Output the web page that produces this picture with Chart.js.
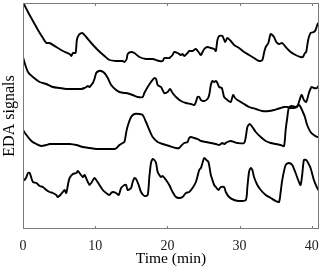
<!DOCTYPE html>
<html>
<head>
<meta charset="utf-8">
<script src="https://cdn.jsdelivr.net/npm/chart.js@4"></script>
<style>
  html, body { margin: 0; padding: 0; background: #fff; }
  #wrap { width: 332px; height: 273px; }
</style>
</head>
<body>
<div id="wrap"><canvas id="edaChart" width="332" height="273"></canvas></div>
<script>
// --- DATA (time in min, signals in arbitrary units, stacked offsets) ---
const xTicks = [0, 10, 20, 30, 40];

const time1 = [0,0.69,1.38,2.07,2.76,3.23,3.69,4.61,5.52,6.45,6.69,6.91,7.28,7.46,7.73,8.2,8.76,9.45,10.36,11.28,11.97,12.9,13.81,14.05,14.36,14.5,14.97,15.43,16.12,17.04,17.96,18.88,19.34,19.57,20.26,20.72,20.95,21.41,21.88,22.1,22.33,22.79,23.02,23.48,23.95,24.41,24.64,25.1,25.55,26.02,26.48,26.71,26.93,27.17,27.62,28,28.31,28.78,29.24,29.93,30.62,31.31,32,32.69,33.15,33.38,33.62,33.98,34.31,34.77,35.08,35.46,35.91,36.38,37.07,37.76,38.45,38.77,39.05,39.23,39.5,39.83,40.29,40.52,40.75,40.88];
const eda1 = [22.7,21.7,20.8,19.9,19.1,18.6,18.6,18.2,17.8,17.5,17.3,17.6,17.6,18.9,19.4,19.6,19.2,18.6,17.9,17.3,16.9,16.8,16.8,16.7,17.0,17.5,17.7,17.6,17.2,17.0,17.0,16.8,16.8,17.1,17.1,17.4,17.7,17.6,17.4,17.5,17.3,17.6,17.8,17.8,18.0,17.6,17.4,18.0,18.2,18.1,18.0,17.8,18.9,19.3,19.3,18.7,19.1,18.8,18.4,18.1,17.7,17.4,17.1,16.8,16.9,17.6,18.2,18.6,19.5,19.2,18.7,18.5,18.6,18.2,17.7,17.4,17.2,17.2,17.6,17.7,18.9,19.6,19.7,19.9,20.4,20.6];

const time2 = [0,0.23,0.69,1.38,2.31,3.23,4.14,5.07,5.99,6.91,7.6,8.07,8.52,8.76,8.98,9.21,9.45,9.67,9.9,10.14,10.5,10.83,11.28,11.74,12.21,12.9,13.36,14.05,14.28,15.19,15.88,16.57,16.81,17.27,17.73,18.19,18.43,18.65,19.12,19.57,20.03,20.36,20.72,21.19,21.88,22.57,23.26,23.72,23.95,24.17,24.41,24.64,25.1,25.55,25.79,26.02,26.24,26.48,26.71,26.93,27.17,27.54,27.86,28.31,28.78,29.1,29.38,29.7,30.39,31.31,32.24,33.15,34.08,34.77,35.22,35.69,36.15,36.6,37.07,37.53,37.98,38.22,38.59,38.91,39.23,39.6,39.97,40.29,40.75,40.88];
const eda2 = [17.2,16.6,15.7,15.2,14.7,14.5,14.2,14.1,14.0,14.0,14.0,14.0,14.1,14.2,14.3,14.2,14.4,14.6,15.0,15.6,15.8,15.8,15.6,15.1,14.4,13.9,13.7,13.6,13.6,13.4,13.2,13.2,13.6,14.2,14.7,15.1,15.0,14.4,14.2,13.6,13.7,14.0,13.6,13.2,12.8,12.6,12.5,12.4,12.7,13.2,13.2,12.9,12.8,13.0,13.4,14.4,14.8,14.7,14.8,14.6,14.2,14.1,13.2,12.9,12.7,13.4,13.1,12.9,12.6,12.2,12.0,11.8,11.8,11.9,12.0,12.1,12.2,12.2,12.1,12.1,12.2,12.7,13.4,12.9,12.7,13.6,14.2,14.1,14.1,14.3];

const time3 = [0,0.47,1.16,1.85,2.54,3.23,3.69,4.14,4.61,5.52,6.45,7.38,8.29,9.21,10.14,11.05,11.98,12.67,12.98,13.36,13.81,14.05,14.36,14.64,14.97,15.43,16.12,16.57,17.04,17.5,17.96,18.65,19.34,20.26,21.19,21.64,21.88,22.33,22.79,23.02,23.26,23.72,24.17,24.64,25.33,26.02,26.71,27.17,27.62,27.86,28.31,28.78,29.24,29.7,30.62,30.86,31.08,31.41,31.77,32.24,32.93,33.62,34.31,35,35.69,36.15,36.38,36.6,36.82,37.21,37.76,38.22,38.45,38.77,39.05,39.36,39.83,40.29,40.75,40.88];
const eda3 = [9.9,9.4,8.8,8.5,8.3,8.4,8.5,8.5,8.5,8.5,8.5,8.4,8.2,8.1,8.0,8.0,8.0,8.0,8.1,8.4,8.6,8.7,9.9,10.6,11.2,11.5,11.5,11.4,10.7,9.9,9.2,8.7,8.5,8.3,8.1,8.1,8.3,8.6,8.7,9.1,9.2,9.1,9.0,8.8,8.7,8.6,8.5,8.4,8.6,8.5,8.7,8.8,8.7,8.6,8.6,9.2,10.2,10.5,10.2,9.7,9.2,8.8,8.6,8.5,8.4,8.3,9.9,11.1,12.1,12.3,12.2,12.4,12.2,11.7,11.2,10.4,9.7,9.4,9.2,9.2];

const time4 = [0,0.23,0.47,0.69,0.93,1.16,1.38,1.85,2.31,2.76,3.23,3.69,4.14,4.61,4.83,5.17,5.52,5.76,5.99,6.22,6.45,6.91,7.38,7.6,7.83,8.29,8.52,8.98,9.21,9.45,9.9,10.14,10.59,11.05,11.52,11.98,12.21,12.43,12.9,13.26,13.59,14.05,14.28,14.5,14.97,15.19,15.43,15.66,16.02,16.35,16.81,17.27,17.5,17.73,17.96,18.19,18.43,18.65,18.88,19.12,19.34,19.81,20.26,20.72,21.19,21.64,22.1,22.57,23.02,23.48,23.95,24.41,24.64,24.86,25.1,25.41,25.69,26.02,26.24,26.48,26.71,27.07,27.4,27.86,28.09,28.54,29.24,29.93,30.86,31.08,31.31,31.55,31.77,32,32.46,32.93,33.62,34.31,35,35.46,35.69,35.91,36.38,36.82,37.29,37.76,38.22,38.45,38.67,38.91,39.23,39.5,39.83,40.29,40.75,40.88];
const eda4 = [5.1,4.9,5.2,5.6,5.6,5.1,4.7,4.6,4.3,4.2,3.9,3.7,3.6,3.4,3.2,3.4,3.7,3.9,3.6,4.4,5.1,5.5,5.6,5.8,5.6,5.2,5.4,4.7,4.4,4.6,5.1,4.9,4.4,3.9,3.6,3.4,3.6,3.7,3.6,3.4,4.1,4.4,4.4,3.9,4.1,4.7,5.1,5.0,4.4,3.7,3.3,3.4,5.2,6.6,7.0,6.9,6.6,5.7,5.4,5.2,5.3,4.9,4.4,3.7,3.2,3.1,3.2,3.6,3.7,4.1,4.7,5.9,6.1,6.6,7.1,6.9,6.7,5.4,4.9,4.4,4.2,3.9,4.2,4.2,3.7,3.2,2.9,2.8,2.9,4.2,5.7,6.1,5.9,5.2,4.4,3.9,3.4,3.1,2.8,2.7,3.7,4.9,6.4,6.6,6.4,5.6,4.7,4.4,5.4,6.9,6.9,6.6,6.1,4.9,4.1,3.9];

const series = [[time1, eda1], [time2, eda2], [time3, eda3], [time4, eda4]];

// --- FRAME + INWARD TICKS (matlab style box) ---
const boxPlugin = {
    id: 'boxPlugin',
    afterDraw(chart) {
        const ctx = chart.ctx;
        const a = chart.chartArea;
        const xs = chart.scales.x;
        ctx.save();
        ctx.strokeStyle = '#7a7a7a';
        ctx.lineWidth = 1;
        ctx.strokeRect(Math.round(a.left) + 0.5, Math.round(a.top) + 0.5,
                       Math.round(a.right - a.left) - 1, Math.round(a.bottom - a.top) - 1);
        ctx.beginPath();
        xTicks.forEach(v => {
            const px = Math.round(xs.getPixelForValue(v)) + 0.5;
            ctx.moveTo(px, a.bottom);
            ctx.lineTo(px, a.bottom - 3);
            ctx.moveTo(px, a.top);
            ctx.lineTo(px, a.top + 3);
        });
        ctx.stroke();
        ctx.restore();
    }
};

const serif = "'Liberation Serif', 'DejaVu Serif', serif";

new Chart(document.getElementById('edaChart').getContext('2d'), {
    type: 'line',
    data: {
        datasets: series.map(([t, v]) => ({
            data: t.map((x, i) => ({ x: x, y: v[i] })),
            borderColor: '#000',
            borderWidth: 1.9,
            pointRadius: 0,
            tension: 0.25,
            fill: false
        }))
    },
    options: {
        responsive: false,
        animation: false,
        layout: { padding: { top: 3, right: 13, bottom: 1, left: 0 } },
        plugins: { legend: { display: false }, tooltip: { enabled: false } },
        scales: {
            x: {
                type: 'linear',
                min: 0,
                max: 41,
                afterBuildTicks(scale) { scale.ticks = xTicks.map(v => ({ value: v })); },
                afterFit(scale) { scale.height = 43; },
                grid: { display: false },
                border: { display: false },
                ticks: { color: '#222', font: { family: serif, size: 14 }, padding: 1, maxRotation: 0 },
                title: { display: true, text: 'Time (min)', color: '#000', font: { family: serif, size: 15.5, lineHeight: 1 }, padding: { top: 0, bottom: 5 } }
            },
            y: {
                min: 0,
                max: 22.6,
                afterFit(scale) { scale.width = 23; },
                grid: { display: false },
                border: { display: false },
                ticks: { display: false },
                title: { display: true, text: 'EDA signals', color: '#000', font: { family: serif, size: 16, lineHeight: 1 }, padding: { top: 2, bottom: 0 } }
            }
        }
    },
    plugins: [boxPlugin]
});
</script>
</body>
</html>
